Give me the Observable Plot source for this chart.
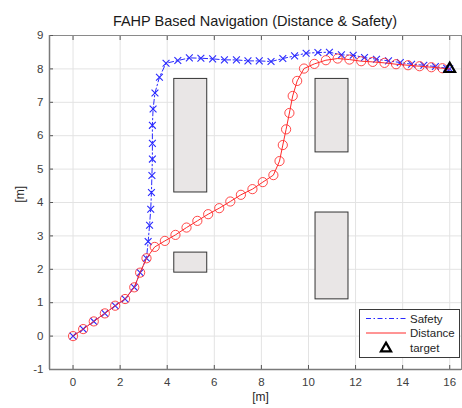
<!DOCTYPE html>
<html>
<head>
<meta charset="utf-8">
<script src="https://cdn.jsdelivr.net/npm/d3@7"></script>
<script src="https://cdn.jsdelivr.net/npm/@observablehq/plot@0.6"></script>
<style>
  html, body { margin: 0; padding: 0; background: #fff; }
  body { width: 462px; height: 408px; position: relative; overflow: hidden; font-family: "Liberation Sans", Arial, sans-serif; }
  #title { height: 30px; line-height: 42px; text-align: center; font-size: 14.5px; color: #1a1a1a; padding-left: 48px; box-sizing: border-box; white-space: nowrap; }
  #legend { position: absolute; left: 359px; top: 309px; width: 101px; height: 49px; box-sizing: border-box; border: 1px solid #3a3a3a; background: #fff; }
  #legend svg { display: block; }
</style>
</head>
<body>
<div id="title">FAHP Based Navigation (Distance &amp; Safety)</div>
<div id="chart"></div>
<div id="legend"></div>
<script>
const titleText = "FAHP Based Navigation (Distance & Safety)";
const seriesNames = ["Safety", "Distance", "target"];
const axisLabelX = "[m]";
const axisLabelY = "[m]";
const xTicks = [0, 2, 4, 6, 8, 10, 12, 14, 16];
const yTicks = [-1, 0, 1, 2, 3, 4, 5, 6, 7, 8, 9];

const safetyX = [0, 0.43, 0.88, 1.35, 1.79, 2.21, 2.60, 2.85, 3.12,
  3.19, 3.25, 3.30, 3.33, 3.35, 3.37, 3.37, 3.37, 3.40, 3.48, 3.67, 3.95,
  4.45, 4.94, 5.43, 5.93, 6.43, 6.94, 7.43, 7.91, 8.41, 8.91, 9.41, 9.90,
  10.40, 10.89, 11.40, 11.90, 12.38, 12.89, 13.40, 13.90, 14.38, 14.90, 15.39, 15.87, 16];
const safetyY = [0, 0.21, 0.44, 0.68, 0.91, 1.11, 1.46, 1.90, 2.33,
  2.83, 3.32, 3.80, 4.30, 4.81, 5.30, 5.77, 6.31, 6.80, 7.28, 7.75, 8.17,
  8.25, 8.33, 8.32, 8.30, 8.27, 8.27, 8.24, 8.24, 8.22, 8.31, 8.39, 8.47,
  8.49, 8.50, 8.42, 8.41, 8.34, 8.29, 8.24, 8.19, 8.14, 8.11, 8.07, 8.02, 8];

const distanceX = [0, 0.43, 0.88, 1.35, 1.79, 2.21, 2.60, 2.85, 3.12,
  3.47, 3.90, 4.35, 4.82, 5.28, 5.74, 6.21, 6.68, 7.13, 7.62, 8.06, 8.51,
  8.77, 8.91, 9.05, 9.19, 9.33, 9.52, 9.81, 10.25, 10.74, 11.24, 11.74,
  12.24, 12.73, 13.23, 13.72, 14.23, 14.72, 15.22, 15.69, 16];
const distanceY = [0, 0.21, 0.44, 0.68, 0.91, 1.11, 1.46, 1.90, 2.33,
  2.67, 2.85, 3.03, 3.25, 3.45, 3.65, 3.83, 4.03, 4.23, 4.40, 4.61, 4.82,
  5.24, 5.72, 6.19, 6.68, 7.19, 7.64, 8.01, 8.15, 8.26, 8.31, 8.28,
  8.23, 8.21, 8.18, 8.14, 8.11, 8.08, 8.05, 8.02, 8];

const obstacleX1 = [4.3, 4.3, 10.3, 10.3];
const obstacleX2 = [5.7, 5.7, 11.7, 11.7];
const obstacleY1 = [4.3, 1.9, 5.5, 1.1];
const obstacleY2 = [7.7, 2.5, 7.7, 3.7];

const targetX = [16];
const targetY = [8];

const BLUE = "#2a2aff";
const RED = "#ff2a2a";

const safety = safetyX.map((x, i) => ({x, y: safetyY[i]}));
const distance = distanceX.map((x, i) => ({x, y: distanceY[i]}));
const distanceMarkers = distance.slice(0, distance.length - 1);
const obstacles = obstacleX1.map((x1, i) => ({x1, x2: obstacleX2[i], y1: obstacleY1[i], y2: obstacleY2[i]}));
const target = targetX.map((x, i) => ({x, y: targetY[i]}));
const fmt = d => String(d);

const chart = Plot.plot({
  width: 462,
  height: 378,
  marginTop: 5,
  marginBottom: 39,
  marginLeft: 49,
  marginRight: 1,
  style: {fontFamily: '"Liberation Sans", Arial, sans-serif', fontSize: "11.5px", color: "#404040", background: "#fff"},
  x: {domain: [-1, 16.5], ticks: xTicks, label: null},
  y: {domain: [-1, 9], ticks: yTicks, label: null},
  marks: [
    Plot.gridX(xTicks, {stroke: "#e3e3e3", strokeOpacity: 1}),
    Plot.gridY(yTicks, {stroke: "#e3e3e3", strokeOpacity: 1}),
    Plot.rect(obstacles, {x1: "x1", x2: "x2", y1: "y1", y2: "y2", fill: "#e9e6e6", stroke: "#333", strokeWidth: 1}),
    Plot.line(safety, {x: "x", y: "y", stroke: BLUE, strokeWidth: 1, strokeDasharray: "5,2.5,1.5,2.5"}),
    Plot.dot(safety, {x: "x", y: "y", symbol: "times", r: 3.2, stroke: BLUE, strokeWidth: 1.1}),
    Plot.line(distance, {x: "x", y: "y", stroke: RED, strokeWidth: 1}),
    Plot.dot(distanceMarkers, {x: "x", y: "y", symbol: "circle", r: 4.6, stroke: RED, strokeWidth: 1, fill: "none", strokeOpacity: 0.85}),
    Plot.dot(target, {x: "x", y: "y", symbol: "triangle", r: 4, stroke: "#000", strokeWidth: 2.2, fill: "none"}),
    Plot.frame({stroke: "#8a8a8a", strokeWidth: 1}),
    Plot.axisX(xTicks, {anchor: "bottom", tickSize: 0, tickPadding: 8, fill: "#404040", fontSize: 11.5, tickFormat: fmt}),
    Plot.axisX(xTicks, {anchor: "bottom", tickSize: -4, tickFormat: () => "", stroke: "#555"}),
    Plot.axisX(xTicks, {anchor: "top", tickSize: -4, tickFormat: () => "", stroke: "#555"}),
    Plot.axisY(yTicks, {anchor: "left", tickSize: 0, tickPadding: 6, fill: "#404040", fontSize: 11.5, tickFormat: fmt}),
    Plot.axisY(yTicks, {anchor: "left", tickSize: -4, tickFormat: () => "", stroke: "#555"}),
    Plot.ruleY([-1], {stroke: "#7a7a7a", strokeWidth: 1.5}),
    Plot.ruleX([-1], {stroke: "#7a7a7a", strokeWidth: 1.5}),
    Plot.text([axisLabelX], {frameAnchor: "bottom", dy: 31, dx: 5, fill: "#262626", fontSize: 12}),
    Plot.text([axisLabelY], {frameAnchor: "left", dx: -29, rotate: -90, fill: "#262626", fontSize: 12})
  ]
});
document.getElementById("chart").appendChild(chart);

// legend
const lg = d3.select("#legend").append("svg").attr("width", 99).attr("height", 47)
  .style("font-family", '"Liberation Sans", Arial, sans-serif').style("font-size", "11.5px");
const rows = [8.5, 23, 38];
lg.append("line").attr("x1", 6).attr("x2", 46).attr("y1", rows[0]).attr("y2", rows[0])
  .attr("stroke", BLUE).attr("stroke-dasharray", "5,2.5,1.5,2.5").attr("stroke-width", 1);
lg.append("line").attr("x1", 6).attr("x2", 46).attr("y1", rows[1]).attr("y2", rows[1])
  .attr("stroke", RED).attr("stroke-width", 1);
lg.append("path").attr("d", d3.symbol(d3.symbolTriangle, 45)()).attr("transform", `translate(26,${rows[2] + 0.5})`)
  .attr("fill", "none").attr("stroke", "#000").attr("stroke-width", 2.2);
seriesNames.forEach((name, i) => {
  lg.append("text").attr("x", 50).attr("y", rows[i]).attr("dy", "0.35em").attr("fill", "#262626").text(name);
});
</script>
</body>
</html>
